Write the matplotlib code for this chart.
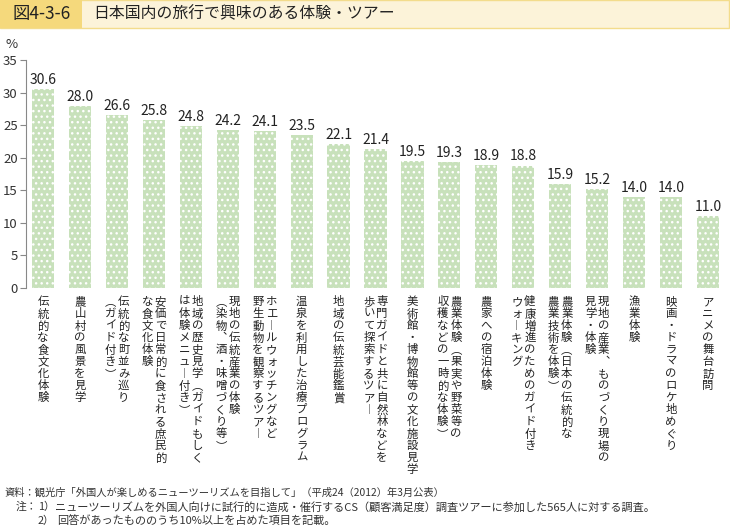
import matplotlib
matplotlib.use("Agg")
import matplotlib.pyplot as plt
from matplotlib.patches import Rectangle
from matplotlib.transforms import blended_transform_factory

plt.rcParams['font.family'] = ['Noto Sans CJK JP', 'DejaVu Sans']
plt.rcParams['hatch.color'] = 'white'
plt.rcParams['hatch.linewidth'] = 1.0

values = [30.6, 28.0, 26.6, 25.8, 24.8, 24.2, 24.1, 23.5, 22.1, 21.4,
          19.5, 19.3, 18.9, 18.8, 15.9, 15.2, 14.0, 14.0, 11.0]

# each label: list of vertical columns (first column on the right)
labels = [
    ["伝統的な食文化体験"],
    ["農山村の風景を見学"],
    ["伝統的な町並み巡り", "（ガイド付き）"],
    ["安価で日常的に食される庶民的", "な食文化体験"],
    ["地域の歴史見学（ガイドもしく", "は体験メニュー付き）"],
    ["現地の伝統産業の体験", "（染物、酒・味噌づくり等）"],
    ["ホエールウォッチングなど", "野生動物を観察するツアー"],
    ["温泉を利用した治療プログラム"],
    ["地域の伝統芸能鑑賞"],
    ["専門ガイドと共に自然林などを", "歩いて探索するツアー"],
    ["美術館・博物館等の文化施設見学"],
    ["農業体験（果実や野菜等の", "収穫などの一時的な体験）"],
    ["農家への宿泊体験"],
    ["健康増進のためのガイド付き", "ウォーキング"],
    ["農業体験（日本の伝統的な", "農業技術を体験）"],
    ["現地の産業、ものづくり現場の", "見学・体験"],
    ["漁業体験"],
    ["映画・ドラマのロケ地めぐり"],
    ["アニメの舞台訪問"],
]

yticks = [0, 5, 10, 15, 20, 25, 30, 35]

title_num = "図4-3-6"
title_text = "日本国内の旅行で興味のある体験・ツアー"
note_source = "資料：観光庁「外国人が楽しめるニューツーリズムを目指して」（平成24（2012）年3月公表）"
note_prefix = "注："
note_nums = ["1）", "2）"]
note_bodies = [
    "ニューツーリズムを外国人向けに試行的に造成・催行するCS（顧客満足度）調査ツアーに参加した565人に対する調査。",
    "回答があったもののうち10%以上を占めた項目を記載。",
]

W, H = 730, 528
fig = plt.figure(figsize=(W / 100, H / 100), dpi=100)
fig.patch.set_facecolor('white')

# title band
fig.patches.append(Rectangle((0, 1 - 28 / H), 729 / W, 28 / H, transform=fig.transFigure,
                             facecolor='#fcf3d9', edgecolor='#f3dc8c', linewidth=1.0, zorder=0))
fig.patches.append(Rectangle((0, 1 - 28 / H), 82 / W, 28 / H, transform=fig.transFigure,
                             facecolor='#f5d97c', edgecolor='none', zorder=1))
fig.text(42 / W, 1 - 14 / H, title_num, ha='center', va='center', fontsize=12.5, color='#222222')
fig.text(93 / W, 1 - 14 / H, title_text, ha='left', va='center', fontsize=11.4, color='#222222')

left, right, top, bottom = 26, 725, 60, 288
ax = fig.add_axes([left / W, 1 - bottom / H, (right - left) / W, (bottom - top) / H])
x = list(range(len(values)))
ax.bar(x, values, width=0.6, color='#c8e1bb', edgecolor='white', linewidth=0, hatch='...')
ax.set_xlim(-0.46, len(values) - 1 + 0.46)
ax.set_ylim(0, 35)
ax.set_yticks(yticks)
ax.set_yticklabels([str(t) for t in yticks], fontsize=9.5, color='#333333')
ax.tick_params(axis='y', direction='out', length=4, width=0.8, color='#888888', pad=2)
ax.set_xticks([])
for s in ['top', 'right', 'bottom']:
    ax.spines[s].set_visible(False)
ax.spines['left'].set_color('#888888')
ax.spines['left'].set_linewidth(0.8)

for xi, v in zip(x, values):
    ax.annotate(f"{v:.1f}", (xi, v), xytext=(0, 1.5), textcoords='offset points',
                ha='center', va='bottom', fontsize=10, color='#222222')

fig.text(12 / W, 1 - 45 / H, "%", ha='center', va='center', fontsize=9.5, color='#333333')

# vertical category labels
vert_map = {'（': '︵', '）': '︶', 'ー': '︱', '、': '︑'}
trans = blended_transform_factory(ax.transData, fig.transFigure)
col_off = 0.178
pitch = 12.0
for xi, cols in zip(x, labels):
    n = len(cols)
    for ci, col in enumerate(cols):
        if n == 1:
            cx = xi
        else:
            cx = xi + col_off * (1 if ci == 0 else -1)
        for k, ch in enumerate(col):
            ch2 = vert_map.get(ch, ch)
            yy = 1 - (296 + k * pitch + 6) / H
            fig.text(cx, yy, ch2, transform=trans, ha='center', va='center',
                     fontsize=8.2, color='#222222')

# footnotes
fig.text(5 / W, 1 - 493 / H, note_source, ha='left', va='center', fontsize=7.4, color='#333333')
fig.text(37 / W, 1 - 507 / H, note_prefix, ha='right', va='center', fontsize=7.8, color='#333333')
for i, (num, body) in enumerate(zip(note_nums, note_bodies)):
    yy = 1 - (507 + i * 14) / H
    fig.text(38 / W, yy, num, ha='left', va='center', fontsize=7.8, color='#333333')
    fig.text((55 + 2 * i) / W, yy, body, ha='left', va='center', fontsize=8.05, color='#333333')

fig.savefig('out.png', dpi=100)
